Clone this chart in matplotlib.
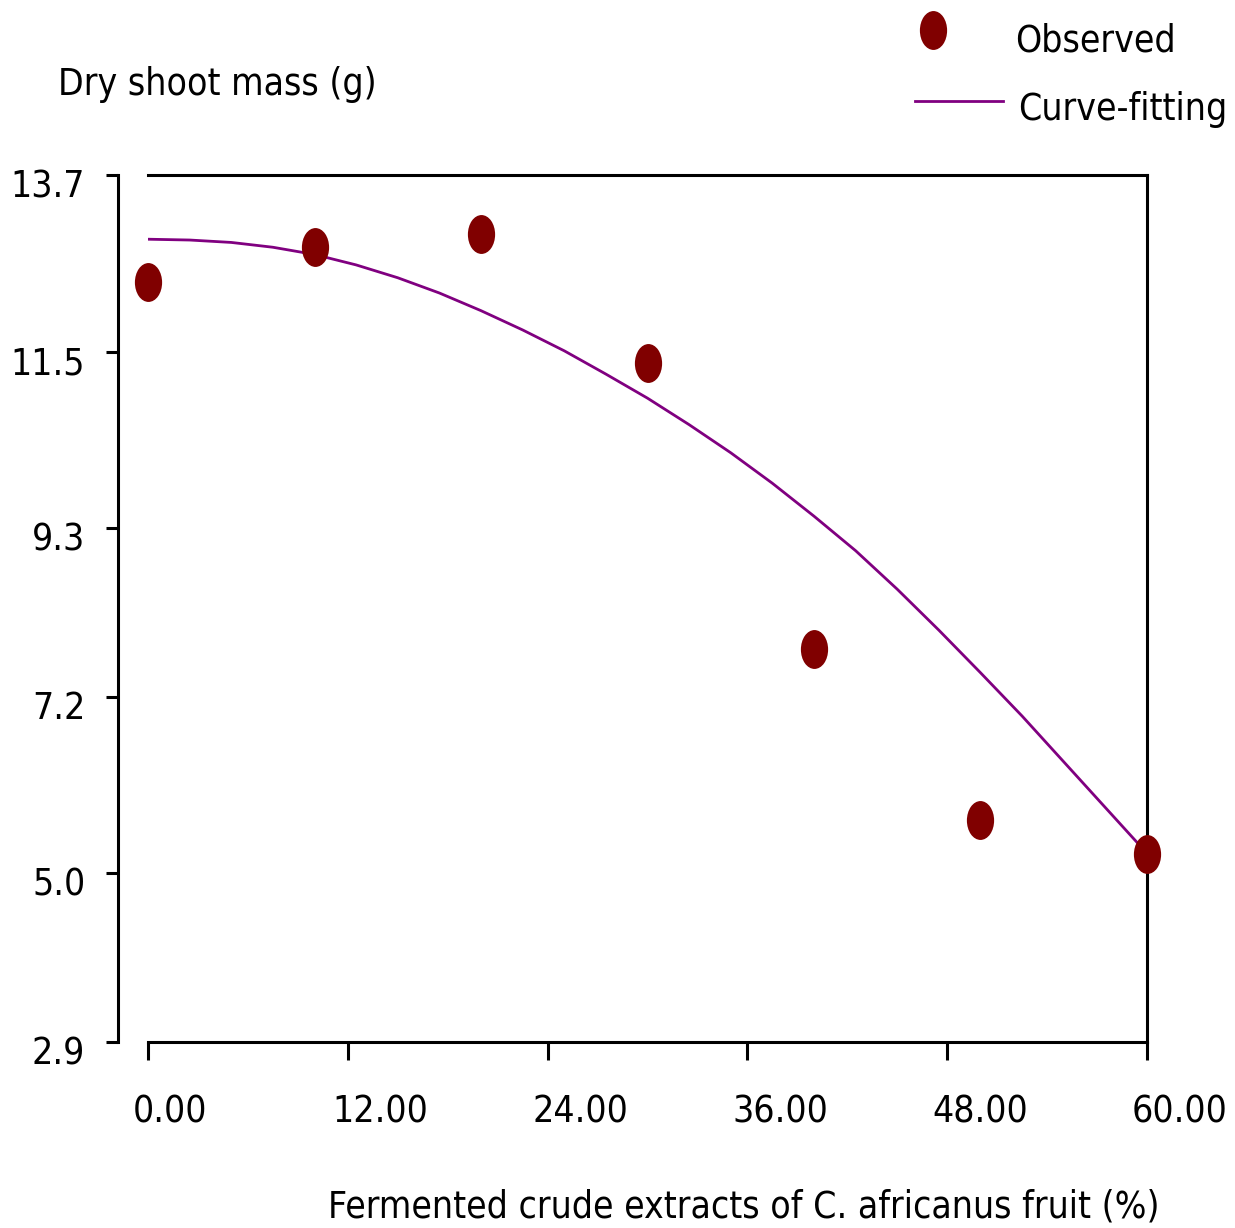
import os
import numpy as np
import matplotlib
matplotlib.use("Agg")
import matplotlib.pyplot as plt
from matplotlib import font_manager
from matplotlib.font_manager import FontProperties
from matplotlib.textpath import TextPath
from matplotlib.path import Path
from matplotlib.transforms import Affine2D, ScaledTranslation
from matplotlib.lines import Line2D

# Data
conc_obs = [0, 10, 20, 30, 40, 50, 60]
mass_obs = [12.37, 12.80, 12.96, 11.36, 7.80, 5.67, 5.24]

conc_fit = [0, 2.5, 5, 7.5, 10, 12.5, 15, 17.5, 20, 22.5, 25, 27.5, 30,
            32.5, 35, 37.5, 40, 42.5, 45, 47.5, 50, 52.5, 55, 57.5, 60]
mass_fit = [12.90, 12.89, 12.86, 12.80, 12.71, 12.58, 12.42, 12.23, 12.01, 11.77, 11.51, 11.22, 10.92,
            10.59, 10.24, 9.86, 9.45, 9.02, 8.54, 8.03, 7.50, 6.96, 6.39, 5.82, 5.25]

x_ticks = [0, 12, 24, 36, 48, 60]
x_labels = ["0.00", "12.00", "24.00", "36.00", "48.00", "60.00"]
y_ticks = [2.9, 5.0, 7.2, 9.3, 11.5, 13.7]
y_labels = ["2.9", "5.0", "7.2", "9.3", "11.5", "13.7"]

x_title = "Fermented crude extracts of C. africanus fruit (%)"
y_title = "Dry shoot mass (g)"

W, H = 1235, 1228


# pick a narrow sans font if one is installed
def pick_font():
    files = [f.fname for f in font_manager.fontManager.ttflist]
    wanted = ["LiberationSansNarrow-Regular", "DejaVuSansCondensed.ttf",
              "RobotoCondensed-Regular", "OpenSans_Condensed-Regular",
              "OpenSansCondensed-Regular", "NotoSans-Condensed.ttf",
              "NotoSans-CondensedRegular", "Lato-Condensed"]
    for w in wanted:
        for f in files:
            if w.lower() in os.path.basename(f).lower():
                return FontProperties(fname=f)
    for f in files:
        b = os.path.basename(f).lower()
        if ("narrow" in b or "condensed" in b) and "bold" not in b \
                and "italic" not in b and "oblique" not in b and "light" not in b:
            return FontProperties(fname=f)
    return FontProperties(family="Liberation Sans")


prop = pick_font()

# size text so the x title spans about the same width as in the chart
w1 = TextPath((0, 0), x_title, size=1, prop=prop).get_extents().width
h1 = TextPath((0, 0), "0123", size=1, prop=prop).get_extents().height
fs = min(827 * 72 / (100 * w1), 38 * 72 / (100 * h1))
prop.set_size(fs)

fig = plt.figure(figsize=(W / 100, H / 100), dpi=100)
ax = fig.add_axes([148 / W, (H - 1042) / H, 999 / W, 867 / H])

marker_color = "#800000"
line_color = "#800080"

# tall ellipse marker
ellipse = Path.unit_circle().transformed(Affine2D().scale(0.7, 1.0))

ax.plot(conc_fit, mass_fit, color=line_color, linewidth=2.0, zorder=2)
ax.plot(conc_obs, mass_obs, linestyle="none", marker=ellipse, markersize=28,
        color=marker_color, markeredgewidth=0, zorder=3, clip_on=False)

ax.set_xlim(0, 60)
ax.set_ylim(2.9, 13.7)

for s in ax.spines.values():
    s.set_linewidth(2.2)
ax.spines["left"].set_position(("outward", 21.6))

ax.set_xticks(x_ticks)
ax.set_xticklabels(x_labels, fontproperties=prop, ha="left")
ax.set_yticks(y_ticks)
ax.set_yticklabels(y_labels, fontproperties=prop)
ax.tick_params(axis="x", direction="out", length=13, width=2.2, pad=24)
ax.tick_params(axis="y", direction="out", length=8.6, width=2.2, pad=15)

shift_x = ScaledTranslation(-15 / 100, 0, fig.dpi_scale_trans)
for lab in ax.get_xticklabels():
    lab.set_transform(lab.get_transform() + shift_x)
shift_y = ScaledTranslation(0, -8 / 100, fig.dpi_scale_trans)
for lab in ax.get_yticklabels():
    lab.set_transform(lab.get_transform() + shift_y)

# axis titles
fig.text(58 / W, (H - 95) / H, y_title, fontproperties=prop, va="baseline", ha="left")
fig.text(328 / W, (H - 1218) / H, x_title, fontproperties=prop, va="baseline", ha="left")

# legend
fig.add_artist(Line2D([933 / W], [(H - 30) / H], transform=fig.transFigure, linestyle="none",
                      marker=ellipse, markersize=28, color=marker_color, markeredgewidth=0))
fig.text(1015 / W, (H - 52) / H, "Observed", fontproperties=prop, va="baseline", ha="left")
fig.add_artist(Line2D([915 / W, 1003 / W], [(H - 101) / H, (H - 101) / H],
                      transform=fig.transFigure, color=line_color, linewidth=2.0))
fig.text(1018 / W, (H - 120) / H, "Curve-fitting", fontproperties=prop, va="baseline", ha="left")

fig.savefig("out.png", dpi=100)
plt.close(fig)
